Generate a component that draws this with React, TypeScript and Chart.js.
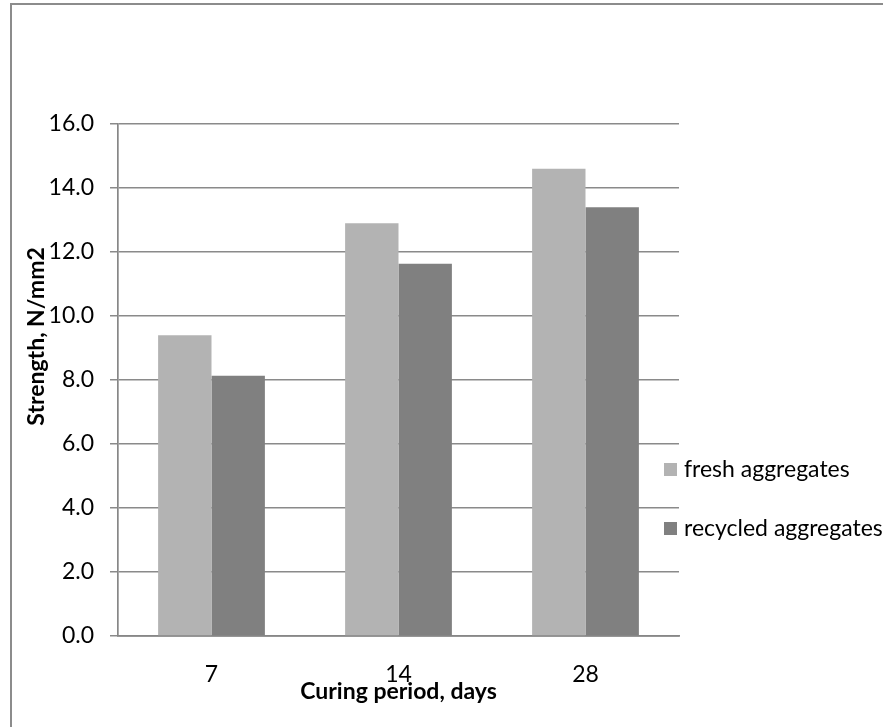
import React, { useEffect, useRef } from "react";
import { Chart, registerables } from "chart.js";

Chart.register(...registerables);

const categories = ["7", "14", "28"];
const seriesLabels = ["fresh aggregates", "recycled aggregates"];
const freshValues = [9.4, 12.9, 14.6];
const recycledValues = [8.13, 11.63, 13.4];
const seriesColors = ["#b3b3b3", "#808080"];
const yMin = 0;
const yMax = 16;
const yStep = 2;
const xTitle = "Curing period, days";
const yTitle = "Strength, N/mm2";

const FONT = "Lato, 'Noto Sans', sans-serif";
const FS = 23;

const yTitlePlugin = {
  id: "yTitleOffset",
  afterDraw(chart: any) {
    const { ctx, chartArea } = chart;
    ctx.save();
    ctx.font = `bold ${FS}px ${FONT}`;
    ctx.fillStyle = "#000";
    ctx.textAlign = "center";
    ctx.textBaseline = "middle";
    const cy = chartArea.top + (chartArea.bottom - chartArea.top) * 0.415;
    ctx.translate(37, cy);
    ctx.rotate(-Math.PI / 2);
    ctx.fillText(yTitle, 0, 0);
    ctx.restore();
  },
};

const legendPlugin = {
  id: "sideLegend",
  afterDraw(chart: any) {
    const { ctx, chartArea } = chart;
    const ds = chart.data.datasets;
    ctx.save();
    ctx.font = `${FS}px ${FONT}`;
    ctx.textBaseline = "middle";
    ctx.textAlign = "left";
    const x0 = chartArea.right - 15;
    const rows = [469.5, 528.5];
    ds.forEach((d: any, i: number) => {
      const cy = rows[i];
      ctx.fillStyle = d.backgroundColor;
      ctx.fillRect(x0, cy - 6.5, 13, 13);
      ctx.fillStyle = "#000";
      ctx.fillText(d.label, x0 + 20, cy);
    });
    ctx.restore();
  },
};

export default function App() {
  const ref = useRef<HTMLCanvasElement | null>(null);

  useEffect(() => {
    if (!ref.current) return;
    const chart = new Chart(ref.current, {
      type: "bar",
      data: {
        labels: categories,
        datasets: [
          {
            label: seriesLabels[0],
            data: freshValues,
            backgroundColor: seriesColors[0],
            borderWidth: 0,
            categoryPercentage: 0.571,
            barPercentage: 1,
          },
          {
            label: seriesLabels[1],
            data: recycledValues,
            backgroundColor: seriesColors[1],
            borderWidth: 0,
            categoryPercentage: 0.571,
            barPercentage: 1,
          },
        ],
      },
      options: {
        responsive: false,
        animation: false,
        layout: { padding: { top: 124, right: 204, left: 0, bottom: 0 } },
        plugins: {
          legend: { display: false },
          tooltip: { enabled: false },
          title: { display: false },
        },
        scales: {
          x: {
            grid: { display: false, drawTicks: false },
            border: { display: true, color: "#878787", width: 1.7 },
            ticks: {
              color: "#000",
              font: { family: FONT, size: FS },
              padding: 25,
            },
            title: {
              display: true,
              text: xTitle,
              color: "#000",
              font: { family: FONT, size: FS, weight: "bold" },
              padding: { top: 0, bottom: 22 },
            },
            afterFit(scale: any) {
              scale.height = 91;
            },
          },
          y: {
            min: yMin,
            max: yMax,
            grid: {
              color: "#8a8a8a",
              lineWidth: 1.5,
              tickLength: 8,
              drawTicks: true,
            },
            border: { display: true, color: "#878787", width: 1.7 },
            ticks: {
              stepSize: yStep,
              color: "#000",
              font: { family: FONT, size: FS },
              padding: 16,
              callback: (v: any) => Number(v).toFixed(1),
            },
            afterFit(scale: any) {
              scale.width = 118;
            },
          },
        },
      },
      plugins: [yTitlePlugin, legendPlugin],
    } as any);
    return () => chart.destroy();
  }, []);

  return (
    <div
      style={{
        position: "absolute",
        left: 0,
        top: 0,
        width: 883,
        height: 727,
        overflow: "hidden",
        background: "#fff",
      }}
    >
      <div
        style={{
          position: "absolute",
          left: 10,
          top: 3,
          width: 1000,
          height: 1000,
          borderLeft: "2px solid #8c8c8c",
          borderTop: "2px solid #8c8c8c",
        }}
      />
      <canvas
        ref={ref}
        width={883}
        height={727}
        style={{ position: "absolute", left: 0, top: 0, width: 883, height: 727 }}
      />
    </div>
  );
}
